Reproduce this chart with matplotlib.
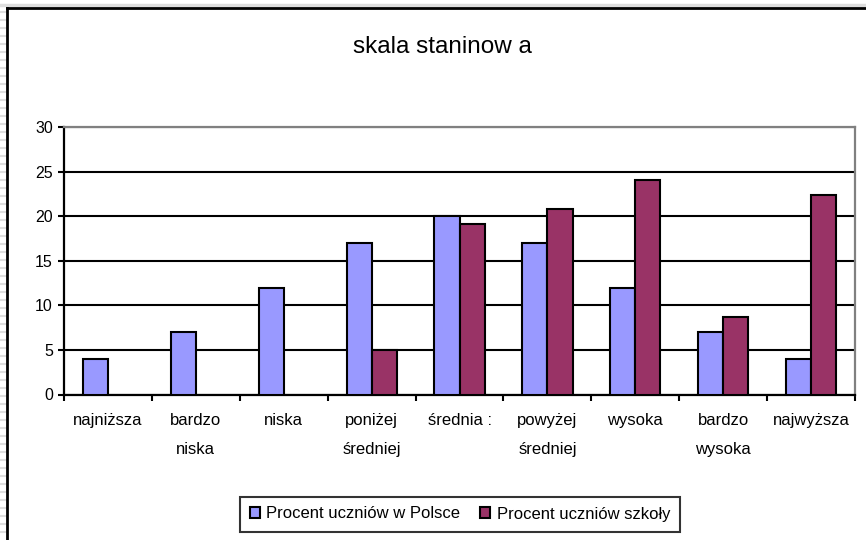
import matplotlib.pyplot as plt
import numpy as np
from matplotlib.lines import Line2D
from matplotlib.ticker import FixedLocator

plt.rcParams['font.family'] = ['Liberation Sans', 'DejaVu Sans']

categories = ['najniższa', 'bardzo\nniska', 'niska', 'poniżej\nśredniej', 'średnia :',
              'powyżej\nśredniej', 'wysoka', 'bardzo\nwysoka', 'najwyższa']
polska = [4, 7, 12, 17, 20, 17, 12, 7, 4]
szkola = [0, 0, 0, 5, 19.1, 20.8, 24.1, 8.7, 22.4]
series_names = ['Procent uczniów w Polsce', 'Procent uczniów szkoły']
yticks = [0, 5, 10, 15, 20, 25, 30]

W, H = 866, 540
fig = plt.figure(figsize=(W / 100, H / 100), dpi=100)
ax = fig.add_axes([64 / W, 1 - 394.5 / H, (855 - 64) / W, (394.5 - 127) / H])

x = np.arange(len(categories))
bw = 1 / 3.5
ax.bar(x - bw / 2, polska, bw, color='#9999FF', edgecolor='black', linewidth=1.5,
       label=series_names[0], zorder=3)
# Excel leaves out empty bars
szk = np.array(szkola)
ax.bar(x[szk > 0] + bw / 2, szk[szk > 0], bw, color='#993366', edgecolor='black',
       linewidth=1.5, label=series_names[1], zorder=3)

ax.set_xlim(-0.5, len(categories) - 0.5)
ax.set_ylim(0, 30)
ax.set_yticks(yticks)
ax.yaxis.grid(True, color='black', linewidth=1.5, zorder=1)
ax.tick_params(axis='y', direction='out', length=4, width=1.5, pad=4, labelsize=11.5)

ax.set_xticks(x)
ax.set_xticklabels(categories, linespacing=2.2)
ax.tick_params(axis='x', which='major', length=0, pad=13, labelsize=12)
ax.xaxis.set_minor_locator(FixedLocator(np.arange(-0.5, len(categories), 1)))
ax.tick_params(axis='x', which='minor', direction='out', length=4, width=1.5)

for s in ['left', 'bottom']:
    ax.spines[s].set_color('black')
    ax.spines[s].set_linewidth(1.6)
for s in ['top', 'right']:
    ax.spines[s].set_color('#808080')
    ax.spines[s].set_linewidth(1.6)

fig.text(442 / W, 1 - 47 / H, 'skala staninow a', ha='center', va='center', fontsize=17.5)

leg = ax.legend(loc='center', bbox_to_anchor=(460 / W, 1 - 514 / H), bbox_transform=fig.transFigure,
                ncol=2, frameon=True, fancybox=False, fontsize=12, handlelength=0.6,
                handleheight=0.6, handletextpad=0.4, columnspacing=1.2, borderpad=0.6)
leg.get_frame().set_edgecolor('black')
leg.get_frame().set_linewidth(1.5)

# chart frame and Excel sheet edges
fig.add_artist(Line2D([0, 1], [1 - 4.5 / H] * 2, color='#dddddd', lw=2.5, transform=fig.transFigure))
for yy in range(12, H, 8):
    fig.add_artist(Line2D([0, 6 / W], [1 - yy / H] * 2, color='#dddddd', lw=1.5, transform=fig.transFigure))
fig.add_artist(Line2D([7.5 / W, 7.5 / W], [0, 1 - 8 / H], color='black', lw=2, transform=fig.transFigure))
fig.add_artist(Line2D([7.5 / W, 1], [1 - 8 / H] * 2, color='black', lw=2, transform=fig.transFigure))

fig.savefig('out.png', dpi=100)
